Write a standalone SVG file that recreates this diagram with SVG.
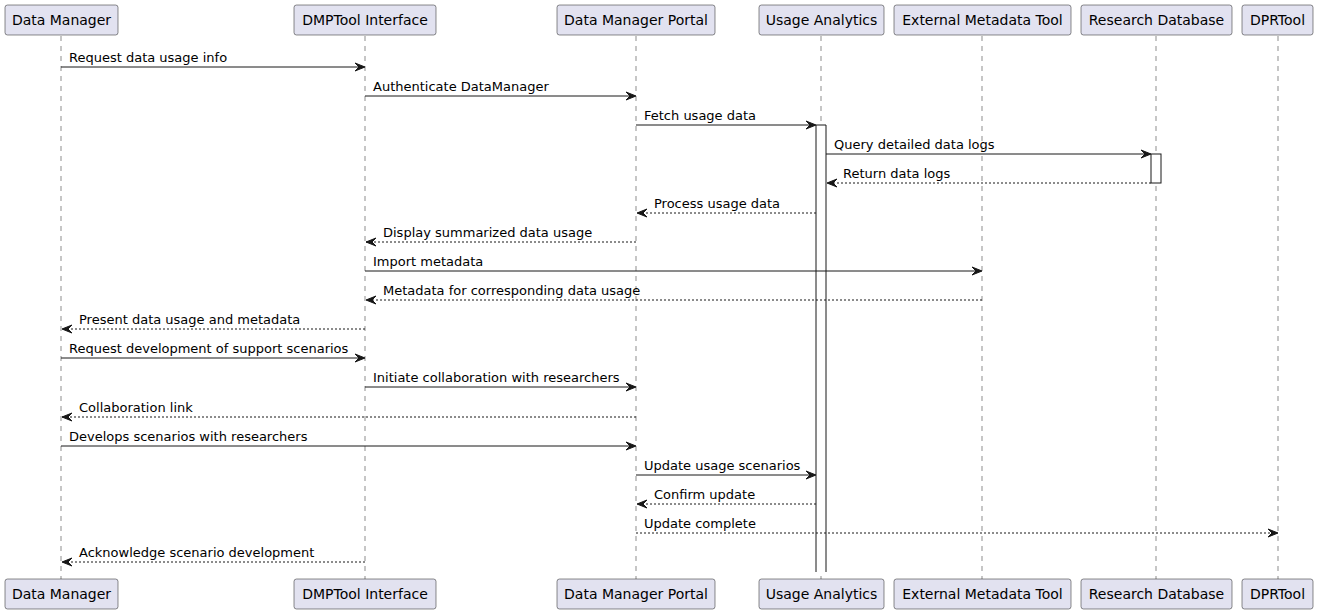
<svg xmlns="http://www.w3.org/2000/svg" width="1319" height="614" viewBox="0 0 1319 614">
<style>
.box{fill:#E2E2F0;stroke:#181818;stroke-width:0.5}
.pt{font-family:"DejaVu Sans",sans-serif;font-size:14px;fill:#000;text-anchor:middle}
.life{stroke:#181818;stroke-width:0.5;stroke-dasharray:5,5;fill:none}
.msg{stroke:#181818;stroke-width:1;fill:none}
.dash{stroke-dasharray:2,2}
.ah{fill:#181818;stroke:#181818;stroke-width:1}
.mt{font-family:"DejaVu Sans",sans-serif;font-size:13px;fill:#000}
.act{fill:#FFFFFF;stroke:#181818;stroke-width:1}
</style>
<rect width="1319" height="614" fill="#FFFFFF"/>
<g id="lifelines">
<line class="life" x1="61" y1="36" x2="61" y2="579"/>
<line class="life" x1="365" y1="36" x2="365" y2="579"/>
<line class="life" x1="636" y1="36" x2="636" y2="579"/>
<line class="life" x1="821" y1="36" x2="821" y2="579"/>
<line class="life" x1="982" y1="36" x2="982" y2="579"/>
<line class="life" x1="1156" y1="36" x2="1156" y2="579"/>
<line class="life" x1="1278" y1="36" x2="1278" y2="579"/>
</g>
<g id="activations">
<rect x="816" y="125" width="10" height="447" fill="#FFFFFF"/>
<path d="M816,572 V125 H826 V572" class="act"/>
<rect class="act" x="1151" y="154" width="10" height="29"/>
</g>
<g id="participant-data-manager">
<rect class="box" x="5" y="5" width="113" height="30" rx="2.5"/>
<text class="pt" x="61.5" y="25">Data Manager</text>
<rect class="box" x="5" y="579" width="113" height="30" rx="2.5"/>
<text class="pt" x="61.5" y="599">Data Manager</text>
</g>
<g id="participant-dmptool-interface">
<rect class="box" x="294" y="5" width="142" height="30" rx="2.5"/>
<text class="pt" x="365" y="25">DMPTool Interface</text>
<rect class="box" x="294" y="579" width="142" height="30" rx="2.5"/>
<text class="pt" x="365" y="599">DMPTool Interface</text>
</g>
<g id="participant-data-manager-portal">
<rect class="box" x="557" y="5" width="158" height="30" rx="2.5"/>
<text class="pt" x="636" y="25">Data Manager Portal</text>
<rect class="box" x="557" y="579" width="158" height="30" rx="2.5"/>
<text class="pt" x="636" y="599">Data Manager Portal</text>
</g>
<g id="participant-usage-analytics">
<rect class="box" x="759" y="5" width="125" height="30" rx="2.5"/>
<text class="pt" x="821.5" y="25">Usage Analytics</text>
<rect class="box" x="759" y="579" width="125" height="30" rx="2.5"/>
<text class="pt" x="821.5" y="599">Usage Analytics</text>
</g>
<g id="participant-external-metadata-tool">
<rect class="box" x="894" y="5" width="177" height="30" rx="2.5"/>
<text class="pt" x="982.5" y="25">External Metadata Tool</text>
<rect class="box" x="894" y="579" width="177" height="30" rx="2.5"/>
<text class="pt" x="982.5" y="599">External Metadata Tool</text>
</g>
<g id="participant-research-database">
<rect class="box" x="1081" y="5" width="151" height="30" rx="2.5"/>
<text class="pt" x="1156.5" y="25">Research Database</text>
<rect class="box" x="1081" y="579" width="151" height="30" rx="2.5"/>
<text class="pt" x="1156.5" y="599">Research Database</text>
</g>
<g id="participant-dprtool">
<rect class="box" x="1242" y="5" width="71" height="30" rx="2.5"/>
<text class="pt" x="1277.5" y="25">DPRTool</text>
<rect class="box" x="1242" y="579" width="71" height="30" rx="2.5"/>
<text class="pt" x="1277.5" y="599">DPRTool</text>
</g>
<g id="connectors">
<!-- 1 -->
<line class="msg" x1="61" y1="67" x2="364" y2="67"/>
<polygon class="ah" points="355,63 365,67 355,71 359,67"/>
<text class="mt" x="69" y="62">Request data usage info</text>
<!-- 2 -->
<line class="msg" x1="365" y1="96" x2="635" y2="96"/>
<polygon class="ah" points="626,92 636,96 626,100 630,96"/>
<text class="mt" x="373" y="91">Authenticate DataManager</text>
<!-- 3 -->
<line class="msg" x1="636" y1="125" x2="815" y2="125"/>
<polygon class="ah" points="806,121 816,125 806,129 810,125"/>
<text class="mt" x="644" y="120">Fetch usage data</text>
<!-- 4 -->
<line class="msg" x1="826" y1="154" x2="1150" y2="154"/>
<polygon class="ah" points="1141,150 1151,154 1141,158 1145,154"/>
<text class="mt" x="834" y="149">Query detailed data logs</text>
<!-- 5 -->
<line class="msg dash" x1="1151" y1="183" x2="827" y2="183"/>
<polygon class="ah" points="837,179 827,183 837,187 833,183"/>
<text class="mt" x="843" y="178">Return data logs</text>
<!-- 6 -->
<line class="msg dash" x1="816" y1="213" x2="637" y2="213"/>
<polygon class="ah" points="647,209 637,213 647,217 643,213"/>
<text class="mt" x="654" y="208">Process usage data</text>
<!-- 7 -->
<line class="msg dash" x1="636" y1="242" x2="366" y2="242"/>
<polygon class="ah" points="376,238 366,242 376,246 372,242"/>
<text class="mt" x="383" y="237">Display summarized data usage</text>
<!-- 8 -->
<line class="msg" x1="365" y1="271" x2="981" y2="271"/>
<polygon class="ah" points="972,267 982,271 972,275 976,271"/>
<text class="mt" x="373" y="266">Import metadata</text>
<!-- 9 -->
<line class="msg dash" x1="982" y1="300" x2="366" y2="300"/>
<polygon class="ah" points="376,296 366,300 376,304 372,300"/>
<text class="mt" x="383" y="295">Metadata for corresponding data usage</text>
<!-- 10 -->
<line class="msg dash" x1="365" y1="329" x2="62" y2="329"/>
<polygon class="ah" points="72,325 62,329 72,333 68,329"/>
<text class="mt" x="79" y="324">Present data usage and metadata</text>
<!-- 11 -->
<line class="msg" x1="61" y1="358" x2="364" y2="358"/>
<polygon class="ah" points="355,354 365,358 355,362 359,358"/>
<text class="mt" x="69" y="353">Request development of support scenarios</text>
<!-- 12 -->
<line class="msg" x1="365" y1="387" x2="635" y2="387"/>
<polygon class="ah" points="626,383 636,387 626,391 630,387"/>
<text class="mt" x="373" y="382">Initiate collaboration with researchers</text>
<!-- 13 -->
<line class="msg dash" x1="636" y1="417" x2="62" y2="417"/>
<polygon class="ah" points="72,413 62,417 72,421 68,417"/>
<text class="mt" x="79" y="412">Collaboration link</text>
<!-- 14 -->
<line class="msg" x1="61" y1="446" x2="635" y2="446"/>
<polygon class="ah" points="626,442 636,446 626,450 630,446"/>
<text class="mt" x="69" y="441">Develops scenarios with researchers</text>
<!-- 15 -->
<line class="msg" x1="636" y1="475" x2="815" y2="475"/>
<polygon class="ah" points="806,471 816,475 806,479 810,475"/>
<text class="mt" x="644" y="470">Update usage scenarios</text>
<!-- 16 -->
<line class="msg dash" x1="816" y1="504" x2="637" y2="504"/>
<polygon class="ah" points="647,500 637,504 647,508 643,504"/>
<text class="mt" x="654" y="499">Confirm update</text>
<!-- 17 -->
<line class="msg dash" x1="636" y1="533" x2="1277" y2="533"/>
<polygon class="ah" points="1268,529 1278,533 1268,537 1272,533"/>
<text class="mt" x="644" y="528">Update complete</text>
<!-- 18 -->
<line class="msg dash" x1="365" y1="562" x2="62" y2="562"/>
<polygon class="ah" points="72,558 62,562 72,566 68,562"/>
<text class="mt" x="79" y="557">Acknowledge scenario development</text>
</g>
</svg>
